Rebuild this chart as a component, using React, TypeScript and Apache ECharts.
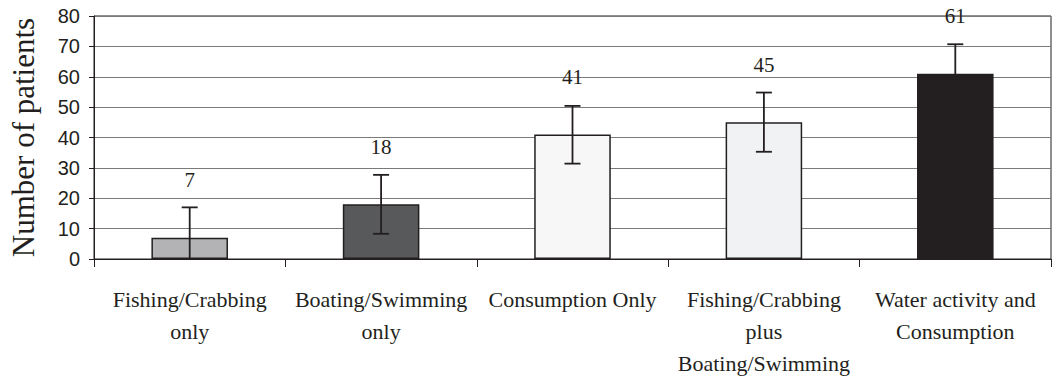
import React, { useEffect, useRef } from "react";
import * as echarts from "echarts";

const categories = [
  "Fishing/Crabbing\nonly",
  "Boating/Swimming\nonly",
  "Consumption Only",
  "Fishing/Crabbing\nplus\nBoating/Swimming",
  "Water activity and\nConsumption",
];
const values = [7, 18, 41, 45, 61];
const errLow = [-3, 8.3, 31.4, 35.3, 51.3];
const errHigh = [17, 27.7, 50.4, 54.8, 70.7];
const barColors = ["#b3b3b5", "#58595b", "#f7f7f7", "#f1f2f4", "#231f20"];
const yTicks = { min: 0, max: 80, interval: 10 };

const dark = "#231f20";
const serif = "'Liberation Serif', 'Times New Roman', serif";
const sans = "'Liberation Sans', Arial, sans-serif";

export default function App() {
  const ref = useRef<HTMLDivElement>(null);
  useEffect(() => {
    if (!ref.current) return;
    const chart = echarts.init(ref.current, undefined, { renderer: "svg" });
    chart.setOption({
      animation: false,
      grid: {
        left: 92,
        right: 2,
        top: 16,
        bottom: 114,
        show: true,
        borderColor: dark,
        borderWidth: 1,
        backgroundColor: "transparent",
      },
      xAxis: {
        type: "category",
        data: categories,
        boundaryGap: true,
        axisLine: { show: true, lineStyle: { color: dark, width: 1 } },
        axisTick: { show: true, length: 8, lineStyle: { color: dark } },
        axisLabel: {
          interval: 0,
          margin: 24,
          fontFamily: serif,
          fontSize: 22,
          lineHeight: 32,
          color: dark,
          align: "center",
        },
      },
      yAxis: {
        type: "value",
        min: yTicks.min,
        max: yTicks.max,
        interval: yTicks.interval,
        name: "Number of patients",
        nameLocation: "middle",
        nameGap: 55,
        nameTextStyle: { fontFamily: serif, fontSize: 31, color: dark },
        axisLine: { show: true, lineStyle: { color: dark, width: 1 } },
        axisTick: { show: true, length: 5, lineStyle: { color: dark } },
        axisLabel: { fontFamily: sans, fontSize: 20, color: dark, margin: 14 },
        splitLine: { show: true, lineStyle: { color: "#7a7a7a", width: 1 } },
      },
      series: [
        {
          type: "bar",
          barWidth: "40%",
          data: values.map((v, i) => ({
            value: v,
            itemStyle: {
              color: barColors[i],
              borderColor: dark,
              borderWidth: 1.5,
            },
          })),
          label: {
            show: true,
            position: "top",
            distance: 47,
            fontFamily: serif,
            fontSize: 21,
            color: dark,
          },
          z: 2,
        },
        {
          type: "custom",
          clip: true,
          z: 3,
          data: values.map((_, i) => [i, errLow[i], errHigh[i]]),
          renderItem: (params: any, api: any) => {
            const x = api.value(0);
            const lo = api.coord([x, api.value(1)]);
            const hi = api.coord([x, api.value(2)]);
            const hw = 8;
            const style = { stroke: dark, lineWidth: 1.8 };
            return {
              type: "group",
              children: [
                { type: "line", shape: { x1: hi[0], y1: hi[1], x2: lo[0], y2: lo[1] }, style },
                { type: "line", shape: { x1: hi[0] - hw, y1: hi[1], x2: hi[0] + hw, y2: hi[1] }, style },
                { type: "line", shape: { x1: lo[0] - hw, y1: lo[1], x2: lo[0] + hw, y2: lo[1] }, style },
              ],
            };
          },
        },
      ],
    });
    return () => chart.dispose();
  }, []);
  return <div ref={ref} style={{ width: 1053, height: 379, position: "absolute", left: 0, top: 0, background: "#fff" }} />;
}
